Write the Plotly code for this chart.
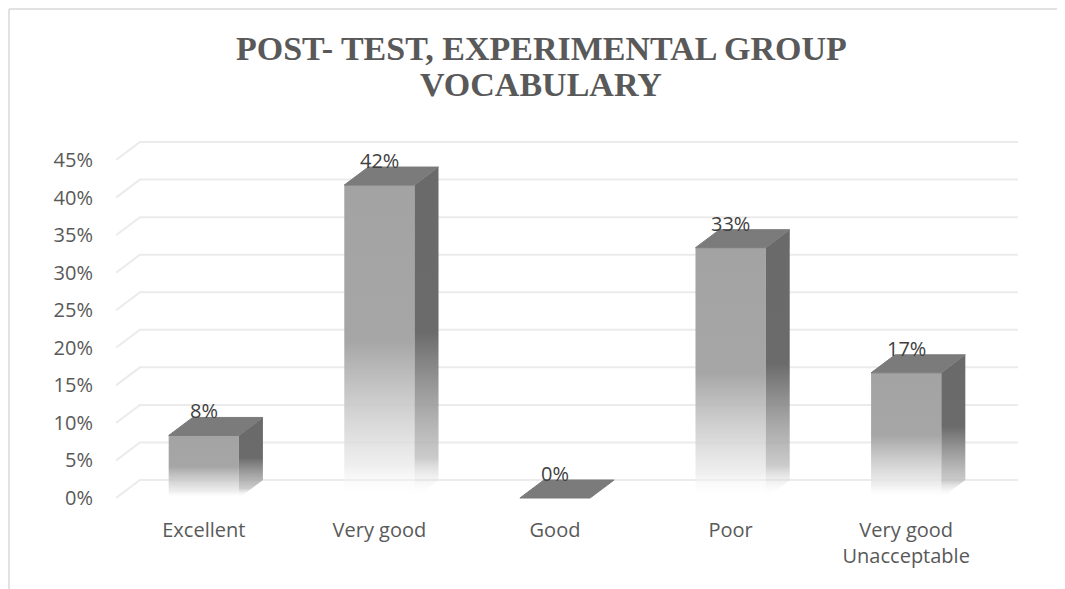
import plotly.graph_objects as go

categories = ["Excellent", "Very good", "Good", "Poor", "Very good<br>Unacceptable"]
values = [8.33, 41.67, 0, 33.33, 16.67]
y_ticks = [0, 5, 10, 15, 20, 25, 30, 35, 40, 45]
y_tick_text = [f"{t}%" for t in y_ticks]
title_lines = ["POST- TEST, EXPERIMENTAL GROUP", "VOCABULARY"]

W, H = 1065, 589
OFF = 8            # body margin of the html page
page_L, page_T = 116, 134
px_x = 175.6       # pixels per category
px_y = 7.51        # pixels per percent
PW, PH = 909, 367  # plot area size
bw = 0.4           # bar width (category units)
dx = 24 / px_x     # depth offset
dy = 18 / px_y

x_pos = list(range(len(categories)))
xr = [-0.5, -0.5 + PW / px_x]
yr = [-0.4, -0.4 + PH / px_y]

fig = go.Figure()

# back wall + floor gridlines
for t in y_ticks:
    fig.add_trace(go.Scatter(
        x=[-0.5, -0.5 + dx, len(categories) - 0.5 + dx],
        y=[t, t + dy, t + dy],
        mode="lines", line=dict(color="#ebebeb", width=2),
        hoverinfo="skip", showlegend=False))

# 3d-looking bars
for i, v in zip(x_pos, values):
    xl, xrt = i - bw / 2, i + bw / 2
    if v > 0:
        # front face
        fig.add_trace(go.Scatter(
            x=[xl, xrt, xrt, xl, xl], y=[0, 0, v, v, 0],
            mode="lines", fill="toself", line=dict(width=0),
            fillgradient=dict(type="vertical", start=0, stop=v,
                              colorscale=[[0, "rgba(255,255,255,0)"],
                                          [0.1, "rgba(235,235,235,0.8)"],
                                          [0.5, "#a6a6a6"],
                                          [1, "#a3a3a3"]]),
            hoverinfo="skip", showlegend=False))
        # side face
        fig.add_trace(go.Scatter(
            x=[xrt, xrt + dx, xrt + dx, xrt, xrt], y=[0, dy, v + dy, v, 0],
            mode="lines", fill="toself", line=dict(width=0),
            fillgradient=dict(type="vertical", start=0, stop=v + dy,
                              colorscale=[[0, "rgba(255,255,255,0)"],
                                          [0.12, "rgba(190,190,190,0.8)"],
                                          [0.5, "#6b6b6b"],
                                          [1, "#6a6a6a"]]),
            hoverinfo="skip", showlegend=False))
    # top face
    fig.add_trace(go.Scatter(
        x=[xl, xrt, xrt + dx, xl + dx, xl], y=[v, v, v + dy, v + dy, v],
        mode="lines", fill="toself", fillcolor="#7b7b7b",
        line=dict(color="#7b7b7b", width=1),
        hoverinfo="skip", showlegend=False))
    fig.add_annotation(x=i, y=v + dy, text=f"{round(v)}%", showarrow=False,
                       yanchor="bottom", yshift=-9,
                       font=dict(family="Open Sans", size=20, color="#404040"))

def px2paper_x(p):
    return (p - page_L) / PW

def px2paper_y(p):
    return (page_T + PH - p) / PH

# title, two centred lines
for line, ypx in zip(title_lines, [48, 85]):
    fig.add_annotation(text="<b>" + line + "</b>", xref="paper", yref="paper",
                       x=px2paper_x(541), y=px2paper_y(ypx), xanchor="center",
                       yanchor="middle", showarrow=False,
                       font=dict(family="Liberation Serif", size=34, color="#595959"))

# chart frame
fig.add_shape(type="line", xref="paper", yref="paper",
              x0=px2paper_x(9), x1=px2paper_x(9), y0=px2paper_y(9), y1=px2paper_y(H + 5),
              line=dict(color="#d9d9d9", width=1.5))
fig.add_shape(type="line", xref="paper", yref="paper",
              x0=px2paper_x(9), x1=px2paper_x(W + 5), y0=px2paper_y(9), y1=px2paper_y(9),
              line=dict(color="#d9d9d9", width=1.5))

ml, mt = page_L - OFF, page_T - OFF
fig.update_layout(
    width=W, height=H,
    margin=dict(l=ml, r=W - ml - PW, t=mt, b=H - mt - PH, autoexpand=False),
    plot_bgcolor="white", paper_bgcolor="white",
    font=dict(family="Open Sans", size=20, color="#595959"),
    xaxis=dict(range=xr, tickvals=x_pos, ticktext=categories, showgrid=False,
               zeroline=False, showline=False, ticks="", ticklabelstandoff=15,
               automargin=False, fixedrange=True),
    yaxis=dict(range=yr, tickvals=y_ticks, ticktext=y_tick_text, showgrid=False,
               zeroline=False, showline=False, ticks="", ticklabelstandoff=22,
               automargin=False, fixedrange=True),
    showlegend=False,
)

fig.write_html("out.html")
